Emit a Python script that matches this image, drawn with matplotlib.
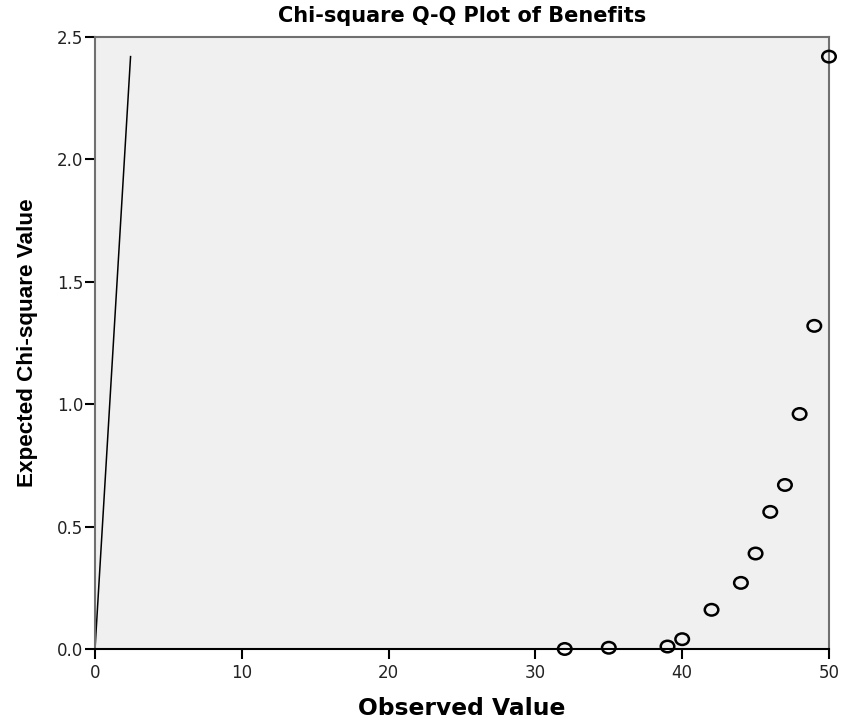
import matplotlib
matplotlib.use("Agg")
import matplotlib.pyplot as plt
from matplotlib.path import Path
from matplotlib.transforms import Affine2D

observed = [32, 35, 39, 40, 42, 44, 45, 46, 47, 48, 49, 50]
expected = [0.00, 0.005, 0.01, 0.04, 0.16, 0.27, 0.39, 0.56, 0.67, 0.96, 1.32, 2.42]
line_x = [0, 2.42]
line_y = [0, 2.42]
xticks = [0, 10, 20, 30, 40, 50]
yticks = [0.0, 0.5, 1.0, 1.5, 2.0, 2.5]

plt.rcParams['font.family'] = ['DejaVu Sans']
fig = plt.figure(figsize=(8.41, 7.19), dpi=100)
ax = fig.add_axes([0.113, 0.0974, 0.8727, 0.8511])
ax.set_facecolor('#F0F0F0')
ax.plot(line_x, line_y, color='black', lw=1.1)
ell = Path.unit_circle().transformed(Affine2D().scale(1.0, 0.85))
ax.scatter(observed, expected, s=95, marker=ell, facecolors='none', edgecolors='black',
           linewidths=1.8, clip_on=False, zorder=3)
ax.set_xlim(0, 50)
ax.set_ylim(0, 2.5)
ax.set_xticks(xticks)
ax.set_xticklabels([str(t) for t in xticks])
ax.set_yticks(yticks)
ax.set_yticklabels([f"{t:.1f}" for t in yticks])
ax.tick_params(axis='both', direction='out', length=7, width=1.5, labelsize=12, colors='black')
ax.tick_params(axis='y', pad=1.5)
ax.tick_params(axis='x', pad=3.5)
for lab in ax.get_xticklabels() + ax.get_yticklabels():
    lab.set_color('#222222')
for s in ['top', 'right', 'left']:
    ax.spines[s].set_color('#707070')
    ax.spines[s].set_linewidth(1.5)
ax.spines['bottom'].set_color('black')
ax.spines['bottom'].set_linewidth(1.5)
ax.set_title('Chi-square Q-Q Plot of Benefits', fontsize=15, fontweight='bold', pad=11,
             family=['DejaVu Sans'])
ax.set_xlabel('Observed Value', fontsize=16.8, fontweight='bold', labelpad=11,
              family=['DejaVu Sans'])
ax.set_ylabel('Expected Chi-square Value', fontsize=16.2, fontweight='bold', labelpad=13.5,
              family=['Liberation Sans', 'DejaVu Sans'])
fig.savefig('out.png', dpi=100)
